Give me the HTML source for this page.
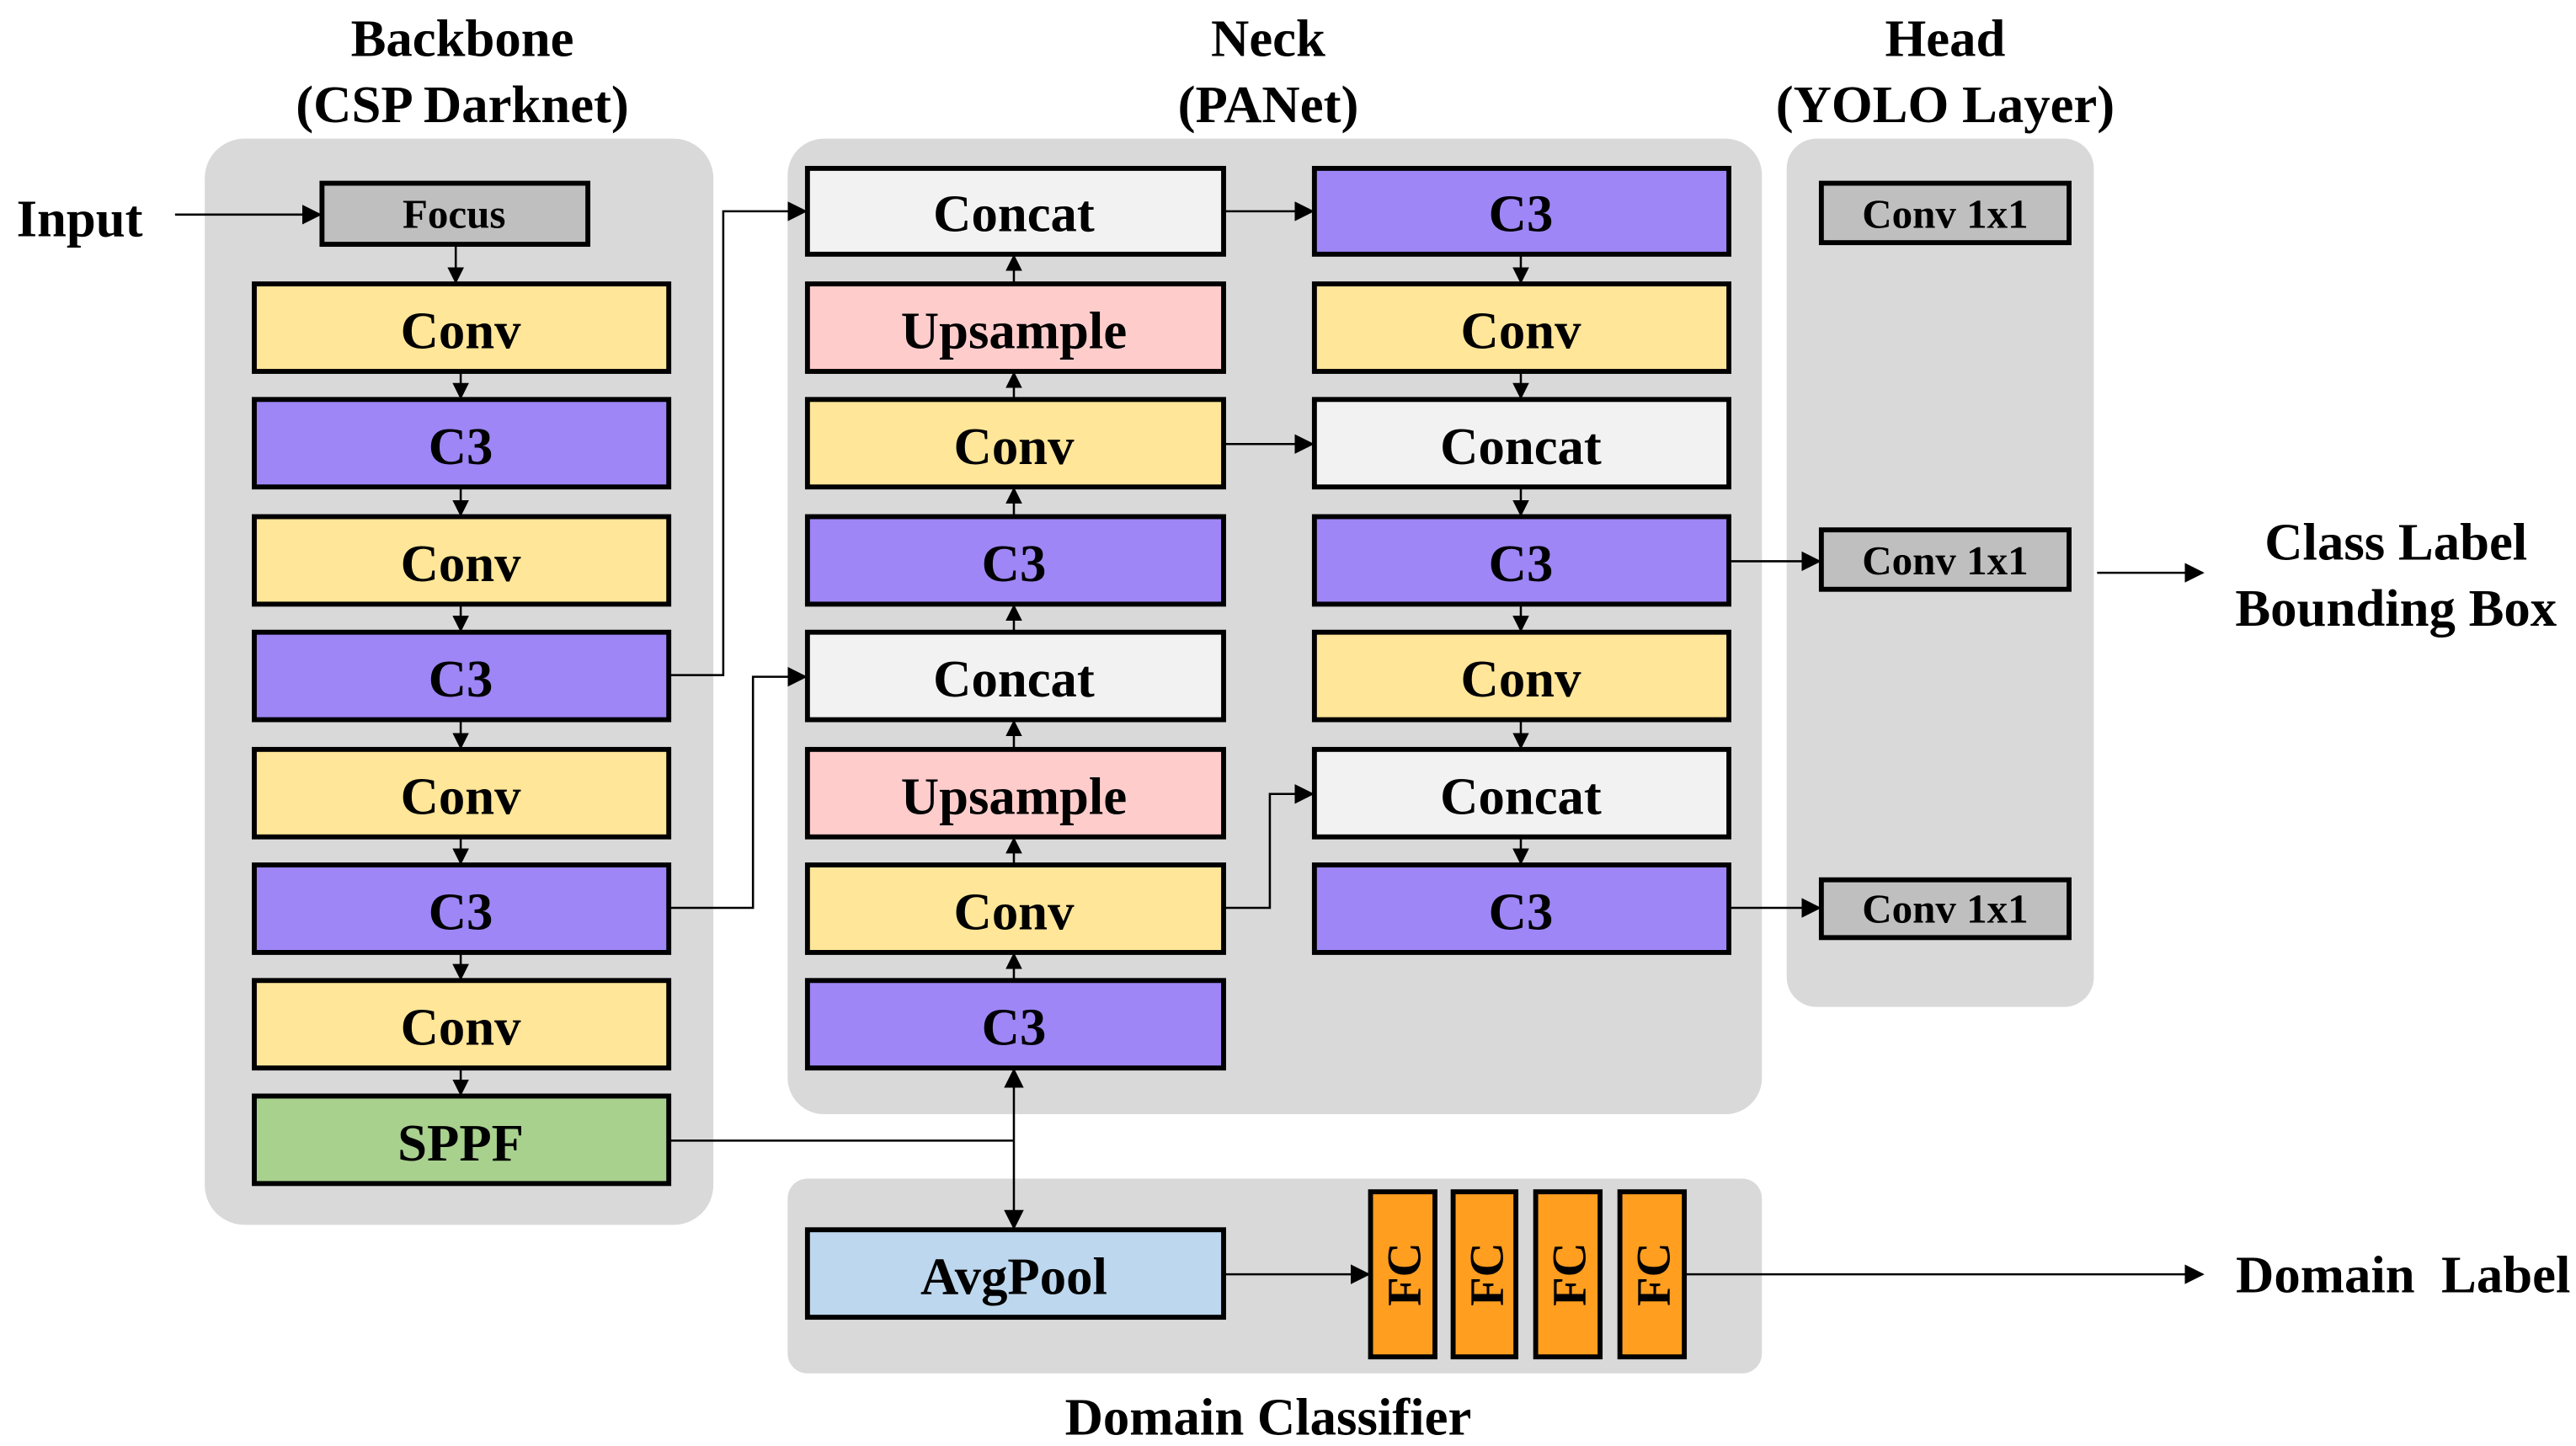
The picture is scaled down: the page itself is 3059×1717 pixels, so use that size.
<!DOCTYPE html>
<html><head><meta charset="utf-8"><style>
html,body{margin:0;padding:0;background:#fff;}
svg{display:block;}
text{font-family:"Liberation Serif",serif;font-weight:bold;fill:#000;}
.b{stroke:#000;stroke-width:3;}
.l{stroke:#000;stroke-width:1.3;fill:none;}
</style></head><body>
<svg width="3059" height="1717" viewBox="0 0 1560 876" preserveAspectRatio="none" xmlns="http://www.w3.org/2000/svg">
<defs><marker id="a" markerWidth="10" markerHeight="10" refX="9" refY="5" orient="auto" markerUnits="userSpaceOnUse"><path d="M0,0 L10,5 L0,10 z" fill="#000"/></marker>
<marker id="s" markerWidth="12" markerHeight="12" refX="11" refY="6" orient="auto" markerUnits="userSpaceOnUse"><path d="M0,0 L12,6 L0,12 z" fill="#000"/></marker></defs>
<g>
<rect x="124" y="84" width="308" height="658" rx="24" fill="#d9d9d9"/>
<rect x="477" y="84" width="590" height="591" rx="22" fill="#d9d9d9"/>
<rect x="1082" y="84" width="186" height="526" rx="18" fill="#d9d9d9"/>
<rect x="477" y="714" width="590" height="118" rx="12" fill="#d9d9d9"/>
<g font-size="32" text-anchor="middle">
<text x="280" y="34">Backbone</text><text x="280" y="74">(CSP Darknet)</text>
<text x="768" y="34">Neck</text><text x="768" y="74">(PANet)</text>
<text x="1178" y="34">Head</text><text x="1178" y="74">(YOLO Layer)</text>
<text x="1451" y="339">Class Label</text><text x="1451" y="379">Bounding Box</text>
<text x="768" y="869">Domain Classifier</text>
</g>
<text x="10" y="143" font-size="32">Input</text>
<text x="1354" y="783" font-size="32" xml:space="preserve">Domain  Label</text>
<g class="b">
<rect x="195" y="111" width="161" height="37" fill="#bfbfbf"/>
<rect x="154" y="172" width="251" height="53" fill="#ffe699"/>
<rect x="154" y="242" width="251" height="53" fill="#9e86f6"/>
<rect x="154" y="313" width="251" height="53" fill="#ffe699"/>
<rect x="154" y="383" width="251" height="53" fill="#9e86f6"/>
<rect x="154" y="454" width="251" height="53" fill="#ffe699"/>
<rect x="154" y="524" width="251" height="53" fill="#9e86f6"/>
<rect x="154" y="594" width="251" height="53" fill="#ffe699"/>
<rect x="154" y="664" width="251" height="53" fill="#a9d18e"/>
<rect x="489" y="102" width="252" height="52" fill="#f2f2f2"/>
<rect x="489" y="172" width="252" height="53" fill="#ffcccc"/>
<rect x="489" y="242" width="252" height="53" fill="#ffe699"/>
<rect x="489" y="313" width="252" height="53" fill="#9e86f6"/>
<rect x="489" y="383" width="252" height="53" fill="#f2f2f2"/>
<rect x="489" y="454" width="252" height="53" fill="#ffcccc"/>
<rect x="489" y="524" width="252" height="53" fill="#ffe699"/>
<rect x="489" y="594" width="252" height="53" fill="#9e86f6"/>
<rect x="796" y="102" width="251" height="52" fill="#9e86f6"/>
<rect x="796" y="172" width="251" height="53" fill="#ffe699"/>
<rect x="796" y="242" width="251" height="53" fill="#f2f2f2"/>
<rect x="796" y="313" width="251" height="53" fill="#9e86f6"/>
<rect x="796" y="383" width="251" height="53" fill="#ffe699"/>
<rect x="796" y="454" width="251" height="53" fill="#f2f2f2"/>
<rect x="796" y="524" width="251" height="53" fill="#9e86f6"/>
<rect x="1103" y="111" width="150" height="36" fill="#bfbfbf"/>
<rect x="1103" y="321" width="150" height="36" fill="#bfbfbf"/>
<rect x="1103" y="533" width="150" height="35" fill="#bfbfbf"/>
<rect x="489" y="745" width="252" height="53" fill="#bdd7ee"/>
<rect x="830" y="722" width="39" height="100" fill="#ff9e1f"/>
<rect x="880" y="722" width="38" height="100" fill="#ff9e1f"/>
<rect x="930" y="722" width="39" height="100" fill="#ff9e1f"/>
<rect x="981" y="722" width="39" height="100" fill="#ff9e1f"/>
</g>
<g font-size="32" text-anchor="middle">
<text x="279" y="211">Conv</text><text x="279" y="281">C3</text><text x="279" y="352">Conv</text><text x="279" y="422">C3</text>
<text x="279" y="493">Conv</text><text x="279" y="563">C3</text><text x="279" y="633">Conv</text><text x="279" y="703">SPPF</text>
<text x="614" y="140">Concat</text><text x="614" y="211">Upsample</text><text x="614" y="281">Conv</text><text x="614" y="352">C3</text>
<text x="614" y="422">Concat</text><text x="614" y="493">Upsample</text><text x="614" y="563">Conv</text><text x="614" y="633">C3</text>
<text x="921" y="140">C3</text><text x="921" y="211">Conv</text><text x="921" y="281">Concat</text><text x="921" y="352">C3</text>
<text x="921" y="422">Conv</text><text x="921" y="493">Concat</text><text x="921" y="563">C3</text>
<text x="614" y="784">AvgPool</text>
</g>
<g font-size="25" text-anchor="middle">
<text x="275" y="138">Focus</text>
<text x="1178" y="138">Conv 1x1</text><text x="1178" y="348">Conv 1x1</text><text x="1178" y="559">Conv 1x1</text>
</g>
<g font-size="29" text-anchor="middle">
<text transform="translate(860,772) rotate(-90)">FC</text>
<text transform="translate(910,772) rotate(-90)">FC</text>
<text transform="translate(960,772) rotate(-90)">FC</text>
<text transform="translate(1011,772) rotate(-90)">FC</text>
</g>
<g class="l">
<path d="M106,130 H194" marker-end="url(#s)"/>
<path d="M276,149 V171" marker-end="url(#a)"/>
<path d="M279,226 V241" marker-end="url(#a)"/><path d="M279,296 V312" marker-end="url(#a)"/>
<path d="M279,367 V382" marker-end="url(#a)"/><path d="M279,437 V453" marker-end="url(#a)"/>
<path d="M279,508 V523" marker-end="url(#a)"/><path d="M279,578 V593" marker-end="url(#a)"/>
<path d="M279,648 V663" marker-end="url(#a)"/>
<path d="M405,409 H438 V128 H488" marker-end="url(#s)"/>
<path d="M405,550 H456 V410 H488" marker-end="url(#s)"/>
<path d="M405,691 H614"/>
<path d="M614,691 V648" marker-end="url(#s)"/>
<path d="M614,691 V744" marker-end="url(#s)"/>
<path d="M614,594 V578" marker-end="url(#a)"/><path d="M614,524 V508" marker-end="url(#a)"/>
<path d="M614,454 V437" marker-end="url(#a)"/><path d="M614,383 V367" marker-end="url(#a)"/>
<path d="M614,313 V296" marker-end="url(#a)"/><path d="M614,242 V226" marker-end="url(#a)"/>
<path d="M614,172 V155" marker-end="url(#a)"/>
<path d="M741,128 H795" marker-end="url(#s)"/>
<path d="M741,269 H795" marker-end="url(#s)"/>
<path d="M741,550 H769 V481 H795" marker-end="url(#s)"/>
<path d="M921,155 V171" marker-end="url(#a)"/><path d="M921,226 V241" marker-end="url(#a)"/>
<path d="M921,296 V312" marker-end="url(#a)"/><path d="M921,367 V382" marker-end="url(#a)"/>
<path d="M921,437 V453" marker-end="url(#a)"/><path d="M921,508 V523" marker-end="url(#a)"/>
<path d="M1047,340 H1102" marker-end="url(#s)"/>
<path d="M1047,550 H1102" marker-end="url(#s)"/>
<path d="M1270,347 H1334" marker-end="url(#s)"/>
<path d="M741,772 H829" marker-end="url(#s)"/>
<path d="M1020,772 H1334" marker-end="url(#s)"/>
</g>
</g>
</svg>
</body></html>
